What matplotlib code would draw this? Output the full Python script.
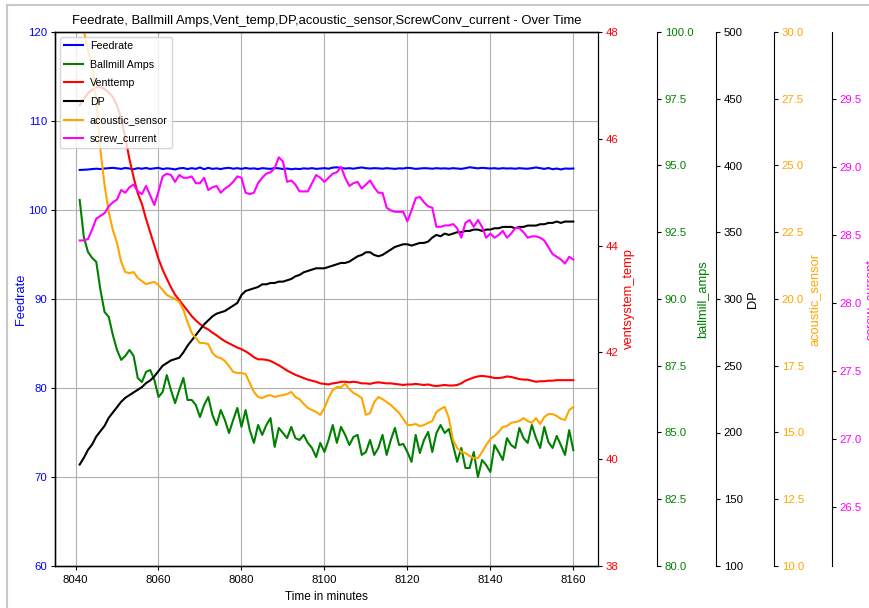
import matplotlib
matplotlib.use("Agg")
import matplotlib.pyplot as plt
from matplotlib.lines import Line2D

plt.rcParams['font.family'] = ['Liberation Sans', 'DejaVu Sans']

minutes = list(range(8041, 8161))

feedrate = [
    104.50, 104.52, 104.55, 104.60, 104.64, 104.60, 104.66, 104.70, 104.74, 104.68,
    104.62, 104.72, 104.66, 104.58, 104.70, 104.64, 104.72, 104.62, 104.68, 104.74,
    104.60, 104.68, 104.64, 104.56, 104.68, 104.72, 104.60, 104.70, 104.62, 104.78,
    104.58, 104.74, 104.62, 104.68, 104.60, 104.70, 104.74, 104.64, 104.70, 104.62,
    104.72, 104.64, 104.68, 104.60, 104.70, 104.66, 104.62, 104.72, 104.68, 104.60,
    104.66, 104.58, 104.64, 104.60, 104.68, 104.64, 104.70, 104.62, 104.66, 104.70,
    104.64, 104.76, 104.80, 104.72, 104.66, 104.70, 104.64, 104.72, 104.78, 104.70,
    104.66, 104.70, 104.68, 104.64, 104.70, 104.66, 104.62, 104.68, 104.66, 104.74,
    104.70, 104.62, 104.66, 104.70, 104.68, 104.64, 104.70, 104.66, 104.68, 104.64,
    104.70, 104.66, 104.62, 104.70, 104.80, 104.74, 104.68, 104.74, 104.70, 104.66,
    104.70, 104.64, 104.70, 104.66, 104.68, 104.64, 104.70, 104.66, 104.64, 104.70,
    104.78, 104.70, 104.62, 104.72, 104.58, 104.66, 104.56, 104.66, 104.64, 104.66,
]

ballmill_amps = [
    93.71, 92.32, 91.76, 91.54, 91.39, 90.34, 89.51, 89.33, 88.65, 88.09,
    87.72, 87.87, 88.09, 87.87, 87.04, 86.89, 87.27, 87.34, 86.97, 86.33,
    86.52, 87.15, 86.59, 86.10, 86.59, 87.04, 86.22, 86.22, 86.03, 85.58,
    86.03, 86.33, 85.66, 85.28, 85.84, 85.47, 84.98, 85.47, 85.92, 85.21,
    85.84, 85.09, 84.61, 85.28, 84.91, 85.28, 85.54, 84.46, 85.17, 84.98,
    84.79, 85.21, 84.79, 84.72, 84.91, 84.61, 84.42, 84.08, 84.61, 84.27,
    84.72, 85.28, 84.61, 85.21, 84.91, 84.53, 84.83, 84.91, 84.16, 84.27,
    84.72, 84.16, 84.42, 84.91, 84.16, 84.72, 85.17, 84.53, 84.57, 84.27,
    83.90, 84.91, 84.23, 84.72, 85.02, 84.27, 84.98, 85.28, 84.98, 85.13,
    84.53, 83.90, 84.42, 83.67, 83.67, 84.27, 83.33, 83.97, 83.78, 83.52,
    84.53, 84.27, 83.97, 84.79, 84.53, 84.42, 85.17, 84.79, 84.61, 85.28,
    84.79, 84.42, 85.21, 84.64, 84.42, 84.87, 84.53, 84.16, 85.09, 84.34,
]

vent_temp = [
    46.63, 46.75, 46.85, 46.92, 46.96, 46.97, 46.93, 46.87, 46.78, 46.62,
    46.38, 46.02, 45.62, 45.28, 44.98, 44.78, 44.50, 44.25, 44.00, 43.75,
    43.55, 43.38, 43.22, 43.08, 42.98, 42.88, 42.78, 42.68, 42.60, 42.53,
    42.47, 42.43, 42.37, 42.32, 42.26, 42.21, 42.17, 42.13, 42.09, 42.06,
    42.02, 41.97, 41.91, 41.87, 41.87, 41.86, 41.84, 41.80, 41.76, 41.71,
    41.66, 41.62, 41.58, 41.55, 41.52, 41.49, 41.47, 41.45, 41.42, 41.41,
    41.40, 41.42, 41.43, 41.45, 41.45, 41.44, 41.45, 41.44, 41.42, 41.42,
    41.41, 41.43, 41.44, 41.43, 41.42, 41.42, 41.41, 41.40, 41.39, 41.40,
    41.40, 41.41, 41.40, 41.39, 41.40, 41.38, 41.37, 41.38, 41.39, 41.38,
    41.38, 41.39, 41.42, 41.47, 41.50, 41.53, 41.55, 41.56, 41.55, 41.54,
    41.52, 41.52, 41.53, 41.55, 41.54, 41.52, 41.50, 41.49, 41.49, 41.47,
    41.45, 41.46, 41.46, 41.47, 41.47, 41.48, 41.48, 41.48, 41.48, 41.48,
]

dp = [
    176, 181, 187, 191, 197, 201, 205, 211, 215, 219,
    223, 226, 228, 230, 232, 234, 237, 239, 242, 246,
    250, 252, 254, 255, 256, 260, 265, 269, 273, 277,
    281, 284, 287, 289, 290, 291, 293, 295, 297, 303,
    306, 307, 308, 309, 311, 311, 312, 312, 313, 313,
    314, 315, 317, 318, 320, 321, 322, 323, 323, 323,
    324, 325, 326, 327, 327, 328, 330, 332, 333, 335,
    335, 333, 332, 333, 335, 337, 339, 340, 341, 341,
    340, 341, 342, 342, 343, 346, 348, 347, 349, 348,
    349, 350, 350, 351, 351, 352, 352, 351, 352, 352,
    353, 353, 354, 354, 354, 353, 354, 354, 355, 355,
    355, 356, 356, 357, 357, 358, 357, 358, 358, 358,
]

acoustic_sensor = [
    30.80, 30.04, 29.33, 28.69, 27.45, 25.58, 24.27, 23.26, 22.58, 22.10,
    21.39, 21.01, 20.97, 21.01, 20.79, 20.67, 20.56, 20.60, 20.64, 20.52,
    20.34, 20.15, 20.07, 20.00, 19.89, 19.59, 19.14, 18.73, 18.54, 18.35,
    18.35, 18.31, 17.98, 17.83, 17.79, 17.68, 17.49, 17.27, 17.23, 17.23,
    17.19, 16.85, 16.52, 16.33, 16.29, 16.37, 16.40, 16.33, 16.37, 16.40,
    16.44, 16.52, 16.33, 16.25, 16.07, 15.92, 15.84, 15.77, 15.66, 15.92,
    16.29, 16.59, 16.70, 16.70, 16.82, 16.63, 16.48, 16.40, 16.29, 15.66,
    15.73, 16.14, 16.33, 16.25, 16.14, 16.03, 15.88, 15.73, 15.51, 15.28,
    15.28, 15.32, 15.24, 15.28, 15.36, 15.43, 15.77, 15.88, 15.96, 15.54,
    14.72, 14.42, 14.27, 14.23, 14.12, 14.04, 14.04, 14.27, 14.53, 14.76,
    14.87, 15.02, 15.21, 15.24, 15.36, 15.39, 15.43, 15.54, 15.43, 15.36,
    15.54, 15.32, 15.58, 15.69, 15.69, 15.62, 15.51, 15.47, 15.84, 15.96,
]

screw_current = [
    28.46, 28.46, 28.47, 28.54, 28.62, 28.64, 28.66, 28.71, 28.74, 28.76,
    28.83, 28.81, 28.85, 28.87, 28.82, 28.80, 28.86, 28.79, 28.72, 28.82,
    28.93, 28.95, 28.94, 28.89, 28.94, 28.92, 28.92, 28.93, 28.88, 28.88,
    28.92, 28.83, 28.85, 28.86, 28.81, 28.84, 28.86, 28.89, 28.93, 28.92,
    28.81, 28.80, 28.81, 28.88, 28.92, 28.95, 28.96, 28.99, 29.07, 29.04,
    28.89, 28.90, 28.87, 28.82, 28.82, 28.82, 28.88, 28.94, 28.92, 28.89,
    28.92, 28.95, 28.96, 29.00, 28.92, 28.86, 28.88, 28.89, 28.84, 28.87,
    28.90, 28.85, 28.81, 28.81, 28.70, 28.68, 28.67, 28.67, 28.67, 28.60,
    28.68, 28.77, 28.78, 28.74, 28.71, 28.70, 28.56, 28.56, 28.57, 28.57,
    28.58, 28.55, 28.48, 28.59, 28.61, 28.56, 28.61, 28.56, 28.48, 28.51,
    28.48, 28.50, 28.53, 28.48, 28.51, 28.55, 28.55, 28.52, 28.48, 28.49,
    28.49, 28.48, 28.46, 28.41, 28.36, 28.34, 28.32, 28.29, 28.34, 28.32,
]

title = "Feedrate, Ballmill Amps,Vent_temp,DP,acoustic_sensor,ScrewConv_current - Over Time"

W, H = 869, 608
TICK_FS = 8.2
LABEL_FS = 9.3
TICK_LEN = 3.0
TICK_PAD = 2.6

fig = plt.figure(figsize=(W / 100, H / 100), dpi=100)
ax = fig.add_axes([55 / W, 1 - 566 / H, 543 / W, 534 / H])

l1, = ax.plot(minutes, feedrate, color='blue', label='Feedrate')
ax.set_ylim(60, 120)
ax.set_ylabel('Feedrate', color='blue', fontsize=LABEL_FS, labelpad=1)
ax.set_xlabel('Time in minutes', fontsize=8.5)
ax.tick_params(axis='y', labelcolor='blue', labelsize=TICK_FS, length=TICK_LEN, pad=TICK_PAD)
ax.tick_params(axis='x', labelsize=TICK_FS, length=TICK_LEN, pad=TICK_PAD + 1)
ax.grid(True)
ax.set_title(title, fontsize=9.4)

def make_twin(pos, color, label, lim):
    t = ax.twinx()
    if pos is not None:
        t.spines['right'].set_position(('axes', pos))
    t.set_ylim(*lim)
    t.set_ylabel(label, color=color, fontsize=LABEL_FS, labelpad=3)
    t.tick_params(axis='y', labelcolor=color, labelsize=TICK_FS,
                  length=TICK_LEN, pad=TICK_PAD)
    return t

ax_r = make_twin(None, 'red', 'ventsystem_temp', (38, 48))
ax_g = make_twin((657 - 55) / 543, 'green', 'ballmill_amps', (80, 100))
ax_k = make_twin((716 - 55) / 543, 'black', 'DP', (100, 500))
ax_o = make_twin((774 - 55) / 543, 'orange', 'acoustic_sensor', (10, 30))
ax_m = make_twin((832 - 55) / 543, 'magenta', 'screw_current', (26.07, 29.99))

l2, = ax_g.plot(minutes, ballmill_amps, color='green', label='Ballmill Amps')
l3, = ax_r.plot(minutes, vent_temp, color='red', label='Venttemp')
l4, = ax_k.plot(minutes, dp, color='black', label='DP')
l5, = ax_o.plot(minutes, acoustic_sensor, color='orange', label='acoustic_sensor')
l6, = ax_m.plot(minutes, screw_current, color='magenta', label='screw_current')

lines = [l1, l2, l3, l4, l5, l6]
ax_m.legend(lines, [l.get_label() for l in lines], loc='upper left', fontsize=7.7,
            labelspacing=0.8, handlelength=1.8, handletextpad=0.6, borderpad=0.4,
            borderaxespad=0.45)

fig.add_artist(Line2D([7 / W, 7 / W], [0, 1 - 5 / H], transform=fig.transFigure,
                      color='#c8c8c8', lw=1.5))
fig.add_artist(Line2D([7 / W, 1], [1 - 5 / H, 1 - 5 / H], transform=fig.transFigure,
                      color='#c8c8c8', lw=1.5))

fig.savefig('out.png', dpi=100)
